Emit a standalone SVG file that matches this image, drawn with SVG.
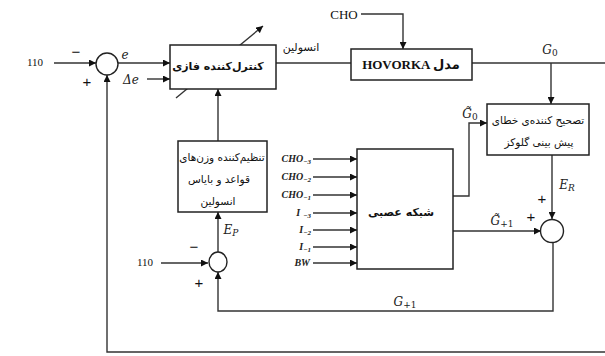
<svg xmlns="http://www.w3.org/2000/svg" width="605" height="356" viewBox="0 0 605 356">
<defs>
<marker id="ah" viewBox="0 0 10 10" refX="10" refY="5" markerWidth="7" markerHeight="7" markerUnits="userSpaceOnUse" orient="auto">
<path d="M0,0 L10,5 L0,10 z" fill="#111"/>
</marker>
<style>
.box{fill:#fff;stroke:#222;stroke-width:1.5}
.sum{fill:#fff;stroke:#222;stroke-width:1.4}
.ln{fill:none;stroke:#333;stroke-width:1.4}
.arr{fill:none;stroke:#333;stroke-width:1.4;marker-end:url(#ah)}
.num{font-family:"Liberation Serif",serif;font-size:11px;fill:#111}
.sgn{font-family:"Liberation Sans",sans-serif;font-size:15px;fill:#111;text-anchor:middle}
.var{font-family:"DejaVu Serif","Liberation Serif",serif;font-style:italic;font-size:12px;fill:#222}
.fa{font-family:"DejaVu Sans",sans-serif;fill:#111;text-anchor:middle}
.inp{font-family:"Liberation Serif",serif;font-style:italic;font-weight:bold;font-size:10px;fill:#222;text-anchor:end}
</style>
</defs>

<g id="connectors">
<line class="arr" x1="54" y1="63" x2="96" y2="63"/>
<line class="arr" x1="118" y1="63" x2="170" y2="63"/>
<line class="arr" x1="147" y1="79" x2="170" y2="79"/>
<line class="arr" x1="176" y1="98" x2="263" y2="26"/>
<line class="ln" x1="276" y1="63" x2="351" y2="63"/>
<polyline class="arr" points="361,14 403,14 403,49"/>
<line class="ln" x1="472" y1="63" x2="605" y2="63"/>
<line class="arr" x1="551" y1="63" x2="551" y2="104"/>
<polyline class="arr" points="453,196 469,196 469,123 487,123"/>
<line class="arr" x1="453" y1="231" x2="541" y2="231"/>
<line class="arr" x1="552" y1="155" x2="552" y2="219"/>
<polyline class="arr" points="553,243 553,311 218,311 218,272"/>
<line class="arr" x1="161" y1="263" x2="208" y2="263"/>
<line class="arr" x1="218" y1="252" x2="218" y2="212"/>
<line class="arr" x1="218" y1="141" x2="218" y2="89"/>
<polyline class="arr" points="605,352 107,352 107,75"/>
<line class="arr" x1="313" y1="159" x2="357" y2="159"/>
<line class="arr" x1="313" y1="177" x2="357" y2="177"/>
<line class="arr" x1="313" y1="195" x2="357" y2="195"/>
<line class="arr" x1="313" y1="213" x2="357" y2="213"/>
<line class="arr" x1="313" y1="230" x2="357" y2="230"/>
<line class="arr" x1="313" y1="247" x2="357" y2="247"/>
<line class="arr" x1="313" y1="263" x2="357" y2="263"/>
</g>

<g id="sum1">
<circle class="sum" cx="107" cy="64" r="11"/>
</g>
<g id="fuzzy">
<rect class="box" x="170" y="45" width="106" height="44"/>
<text class="fa" x="218" y="70" font-size="11" font-weight="bold">کنترل‌کننده فازی</text>
</g>
<g id="hovorka">
<rect class="box" x="351" y="49" width="121" height="31"/>
<text x="411" y="69" text-anchor="middle" font-family="'Liberation Serif','DejaVu Sans',serif" font-weight="bold" font-size="13" fill="#111">HOVORKA مدل</text>
</g>
<g id="errcorr">
<rect class="box" x="487" y="104" width="102" height="51"/>
<text class="fa" x="538" y="124" font-size="10.5">تصحیح کننده‌ی خطای</text>
<text class="fa" x="539" y="146" font-size="10.5">پیش بینی گلوکز</text>
</g>
<g id="nn">
<rect class="box" x="357" y="149" width="96" height="120"/>
<text class="fa" x="401" y="216" font-size="11" font-weight="bold">شبکه عصبی</text>
</g>
<g id="weights">
<rect class="box" x="178" y="141" width="89" height="71"/>
<text class="fa" x="222" y="161" font-size="10.5">تنظیم‌کننده وزن‌های</text>
<text class="fa" x="219" y="183" font-size="10.5">قواعد و بایاس</text>
<text class="fa" x="218" y="205" font-size="10.5">انسولین</text>
</g>
<g id="sum2">
<ellipse class="sum" cx="218" cy="262" rx="9" ry="10"/>
</g>
<g id="sum3">
<circle class="sum" cx="552" cy="231" r="11.5"/>
</g>

<g id="labels">
<text class="num" x="35" y="66" text-anchor="middle">110</text>
<text class="num" x="145" y="266" text-anchor="middle">110</text>
<text class="sgn" x="76" y="57">−</text>
<text class="sgn" x="87" y="87">+</text>
<text class="sgn" x="194" y="252">−</text>
<text class="sgn" x="199" y="288">+</text>
<text class="sgn" x="542" y="204">+</text>
<text class="sgn" x="531" y="222">+</text>
<text class="var" x="125" y="59" text-anchor="middle">e</text>
<text class="var" x="131" y="84" text-anchor="middle">Δe</text>
<text class="fa" x="301" y="51" font-size="11">انسولین</text>
<text x="344" y="19" text-anchor="middle" font-family="'Liberation Serif',serif" font-size="13" fill="#111">CHO</text>
<text class="var" x="550" y="54" text-anchor="middle">G<tspan font-size="9" dy="2" font-style="normal">0</tspan></text>
<text class="var" x="470" y="118" text-anchor="middle">G̃<tspan font-size="9" dy="2" font-style="normal">0</tspan></text>
<text class="var" x="567" y="189" text-anchor="middle">E<tspan font-size="9" dy="2">R</tspan></text>
<text class="var" x="502" y="225" text-anchor="middle">G̃<tspan font-size="9" dy="2" font-style="normal">+1</tspan></text>
<text class="var" x="405" y="306" text-anchor="middle">G<tspan font-size="9" dy="2" font-style="normal">+1</tspan></text>
<text class="var" x="231" y="234" text-anchor="middle">E<tspan font-size="9" dy="2">P</tspan></text>
<text class="inp" x="311" y="162">CHO<tspan font-size="7" dy="2">−3</tspan></text>
<text class="inp" x="311" y="180">CHO<tspan font-size="7" dy="2">−2</tspan></text>
<text class="inp" x="311" y="198">CHO<tspan font-size="7" dy="2">−1</tspan></text>
<text class="inp" x="311" y="216">I<tspan font-size="7" dy="2" dx="3">−3</tspan></text>
<text class="inp" x="311" y="233">I<tspan font-size="7" dy="2">−2</tspan></text>
<text class="inp" x="311" y="250">I<tspan font-size="7" dy="2">−1</tspan></text>
<text class="inp" x="310" y="266">BW</text>
</g>
</svg>
